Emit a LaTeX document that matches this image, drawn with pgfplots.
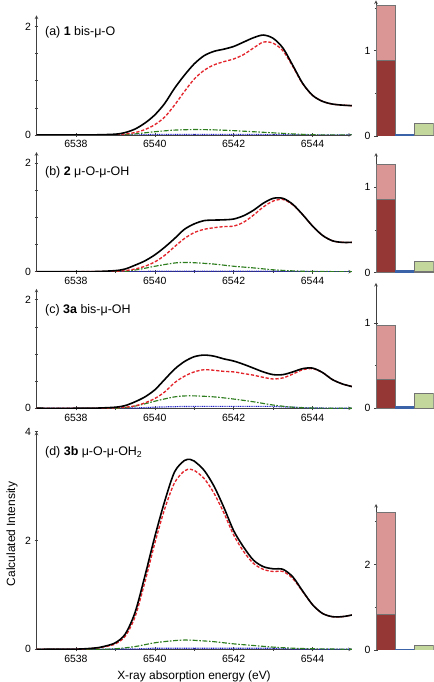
\documentclass[border=0pt]{standalone}
\usepackage{pgfplots}
\pgfplotsset{compat=1.18}
\usepackage{fontspec}
\setmainfont{Liberation Sans}
\definecolor{cred}{HTML}{E3242B}
\definecolor{cgreen}{HTML}{2E7D1E}
\definecolor{cblue}{HTML}{2222C8}
\definecolor{lred}{HTML}{D99694}
\definecolor{dred}{HTML}{953735}
\definecolor{lgreen}{HTML}{C3D69B}
\definecolor{dgreen}{HTML}{6E8E34}
\definecolor{dblue}{HTML}{3B64A8}
\tikzset{
  ttl/.style={anchor=west, font=\fontsize{12.5}{14}\selectfont},
  bb/.style={draw=black!55, line width=0.4bp},
  stot/.style={black, line width=1.6bp, smooth},
  sred/.style={cred, line width=1.35bp, dash pattern=on 3.2bp off 1.8bp, smooth},
  sgrn/.style={cgreen, line width=1.15bp, dash pattern=on 5bp off 1.6bp on 1.6bp off 1.6bp, smooth},
  sblu/.style={cblue, line width=1.2bp, dash pattern=on 1bp off 0.8bp},
}
\pgfplotsset{
  base/.style={scale only axis, enlargelimits=false,
    axis line style={-, line width=0.6bp, black!75},
    tick align=outside, major tick length=4bp, minor tick length=2.5bp,
    every tick/.style={black!75, line width=0.5bp},
    tick label style={font=\fontsize{10.5}{12}\selectfont},
    /pgf/number format/assume math mode=true,
    /pgf/number format/1000 sep={}},
  spec/.style={base, width=315.5bp, xmin=6537, xmax=6545,
    axis x line=bottom, axis y line=left,
    xtick={6538,6540,6542,6544}, minor xtick={6539,6541,6543},
    ymin=0},
  bars/.style={base, width=57.5bp, xmin=-0.5, xmax=2.5, ymin=0,
    axis x line=none, axis y line=left, ybar, bar width=1, bar shift=0pt},
}
\begin{document}
\begin{tikzpicture}
\useasboundingbox (0,0) rectangle (434bp,682bp);
% ---------- (a)
\begin{axis}[spec, at={(36.5bp,547bp)}, anchor=south west, height=119.5bp, ymax=2.2,
  ytick={0,2}, minor ytick={0.5,1,1.5}]
\addplot[sblu] coordinates {(6537,0) (6539.5,0) (6540,0.01) (6542.5,0.01) (6543,0.005) (6545,0)};
\addplot[sgrn] coordinates {(6537,0) (6539,0) (6539.25,0.005) (6539.5,0.02) (6539.75,0.04) (6540,0.06) (6540.5,0.09) (6541,0.10) (6541.5,0.095) (6542,0.08) (6542.5,0.06) (6543,0.04) (6543.5,0.02) (6544,0.005) (6544.5,0) (6545,0)};
\addplot[sred] coordinates {(6537,0) (6538.5,0.001) (6539,0.006) (6539.25,0.02) (6539.5,0.045) (6539.75,0.10) (6540,0.19) (6540.25,0.33) (6540.5,0.55) (6540.75,0.80) (6541,1.03) (6541.25,1.19) (6541.5,1.29) (6541.75,1.35) (6542,1.40) (6542.25,1.48) (6542.5,1.60) (6542.75,1.71) (6543,1.69) (6543.25,1.55) (6543.5,1.26) (6543.75,0.94) (6544,0.73) (6544.25,0.62) (6544.5,0.57) (6544.75,0.55) (6545,0.54)};
\addplot[stot] coordinates {(6537,0) (6538,0) (6538.5,0.003) (6539,0.015) (6539.25,0.045) (6539.5,0.11) (6539.75,0.22) (6540,0.37) (6540.25,0.58) (6540.5,0.86) (6540.75,1.10) (6541,1.31) (6541.25,1.46) (6541.5,1.54) (6541.75,1.58) (6542,1.63) (6542.25,1.71) (6542.5,1.79) (6542.75,1.84) (6543,1.78) (6543.25,1.60) (6543.5,1.28) (6543.75,0.95) (6544,0.73) (6544.25,0.62) (6544.5,0.57) (6544.75,0.55) (6545,0.54)};
\node[ttl] at (axis cs:6537.13,1.9) {(a) \textbf{1} bis-μ-O};
\end{axis}
% ---------- (b)
\begin{axis}[spec, at={(36.5bp,410.3bp)}, anchor=south west, height=119.5bp, ymax=2.2,
  ytick={0,2}, minor ytick={0.5,1,1.5}]
\addplot[sblu] coordinates {(6537,0) (6539.5,0) (6540,0.01) (6543,0.01) (6543.5,0.003) (6545,0)};
\addplot[sgrn] coordinates {(6537,0) (6539,0) (6539.5,0.03) (6540,0.10) (6540.5,0.16) (6540.75,0.17) (6541,0.165) (6541.5,0.14) (6542,0.10) (6542.5,0.07) (6543,0.035) (6543.5,0.015) (6544,0.005) (6545,0)};
\addplot[sred] coordinates {(6537,0) (6538.5,0.001) (6539,0.008) (6539.25,0.02) (6539.5,0.05) (6539.75,0.10) (6540,0.18) (6540.25,0.30) (6540.5,0.46) (6540.75,0.61) (6541,0.72) (6541.25,0.78) (6541.5,0.81) (6541.75,0.83) (6542,0.84) (6542.25,0.91) (6542.5,1.04) (6542.75,1.19) (6543,1.30) (6543.25,1.33) (6543.5,1.23) (6543.75,1.05) (6544,0.84) (6544.25,0.67) (6544.5,0.57) (6544.75,0.54) (6545,0.54)};
\addplot[stot] coordinates {(6537,0) (6538,0) (6538.5,0.003) (6539,0.02) (6539.25,0.05) (6539.5,0.12) (6539.75,0.20) (6540,0.31) (6540.25,0.45) (6540.5,0.61) (6540.75,0.78) (6541,0.88) (6541.25,0.94) (6541.5,0.95) (6541.75,0.955) (6542,0.97) (6542.25,1.03) (6542.5,1.13) (6542.75,1.26) (6543,1.35) (6543.25,1.35) (6543.5,1.24) (6543.75,1.05) (6544,0.84) (6544.25,0.67) (6544.5,0.57) (6544.75,0.54) (6545,0.54)};
\node[ttl] at (axis cs:6537.13,1.83) {(b) \textbf{2} μ-O-μ-OH};
\end{axis}
% ---------- (c)
\begin{axis}[spec, at={(36.5bp,273.7bp)}, anchor=south west, height=119.5bp, ymax=2.2,
  ytick={0,2}, minor ytick={0.5,1,1.5}]
\addplot[sblu] coordinates {(6537,0) (6539.5,0.005) (6540,0.02) (6540.5,0.03) (6541,0.035) (6543,0.035) (6543.5,0.02) (6544,0.005) (6545,0)};
\addplot[sgrn] coordinates {(6537,0) (6539,0) (6539.5,0.04) (6540,0.13) (6540.5,0.21) (6540.9,0.23) (6541.5,0.21) (6542,0.17) (6542.5,0.12) (6543,0.06) (6543.5,0.02) (6544,0.005) (6545,0)};
\addplot[sred] coordinates {(6537,0) (6538.5,0.001) (6539,0.008) (6539.25,0.02) (6539.5,0.045) (6539.75,0.10) (6540,0.18) (6540.25,0.30) (6540.5,0.47) (6540.75,0.59) (6541,0.67) (6541.25,0.71) (6541.5,0.70) (6541.75,0.68) (6542,0.67) (6542.25,0.64) (6542.5,0.61) (6542.75,0.57) (6543,0.54) (6543.25,0.56) (6543.5,0.63) (6543.75,0.71) (6544,0.73) (6544.25,0.66) (6544.5,0.53) (6544.75,0.45) (6545,0.40)};
\addplot[stot] coordinates {(6537,0) (6538,0) (6538.5,0.003) (6539,0.02) (6539.25,0.05) (6539.5,0.12) (6539.75,0.21) (6540,0.34) (6540.25,0.53) (6540.5,0.72) (6540.75,0.86) (6541,0.95) (6541.25,0.98) (6541.5,0.96) (6541.75,0.91) (6542,0.87) (6542.25,0.81) (6542.5,0.74) (6542.75,0.67) (6543,0.62) (6543.25,0.62) (6543.5,0.67) (6543.75,0.73) (6544,0.74) (6544.25,0.66) (6544.5,0.53) (6544.75,0.45) (6545,0.40)};
\node[ttl] at (axis cs:6537.13,1.80) {(c) \textbf{3a} bis-μ-OH};
\end{axis}
% ---------- (d)
\begin{axis}[spec, at={(36.5bp,32.7bp)}, anchor=south west, height=217.6bp, ymax=4,
  ytick={0,2,4}]
\addplot[sblu] coordinates {(6537,0) (6539.5,0.005) (6540,0.02) (6543,0.02) (6543.5,0.005) (6545,0)};
\addplot[sgrn] coordinates {(6537,0) (6538.5,0) (6539,0.01) (6539.5,0.05) (6540,0.12) (6540.5,0.16) (6540.75,0.17) (6541,0.165) (6541.5,0.14) (6542,0.10) (6542.5,0.07) (6543,0.04) (6543.5,0.02) (6544,0.01) (6545,0)};
\addplot[sred] coordinates {(6537,0) (6538,0.002) (6538.5,0.02) (6538.75,0.05) (6539,0.10) (6539.25,0.24) (6539.5,0.60) (6539.75,1.24) (6540,1.95) (6540.25,2.58) (6540.5,3.06) (6540.75,3.28) (6540.9,3.31) (6541,3.29) (6541.25,3.14) (6541.5,2.87) (6541.75,2.51) (6542,2.10) (6542.25,1.80) (6542.5,1.58) (6542.75,1.47) (6543,1.43) (6543.25,1.43) (6543.5,1.30) (6543.75,1.06) (6544,0.82) (6544.25,0.66) (6544.5,0.60) (6544.75,0.60) (6545,0.63)};
\addplot[stot] coordinates {(6537,0) (6538,0.003) (6538.5,0.025) (6538.75,0.06) (6539,0.12) (6539.25,0.28) (6539.5,0.68) (6539.75,1.35) (6540,2.07) (6540.25,2.72) (6540.5,3.26) (6540.75,3.47) (6540.9,3.49) (6541,3.46) (6541.25,3.29) (6541.5,3.00) (6541.75,2.61) (6542,2.18) (6542.25,1.88) (6542.5,1.64) (6542.75,1.52) (6543,1.48) (6543.25,1.47) (6543.5,1.33) (6543.75,1.07) (6544,0.82) (6544.25,0.66) (6544.5,0.60) (6544.75,0.60) (6545,0.63)};
\node[ttl] at (axis cs:6537.13,3.63) {(d) \textbf{3b} μ-O-μ-OH\textsubscript{2}};
\end{axis}
% ---------- bars
\begin{axis}[bars, at={(376bp,546bp)}, anchor=south west, height=135.6bp, ymax=1.59,
  ytick={0,1}, minor ytick={0.5,1.5}]
\addplot[bb, fill=lred] coordinates {(0,1.535)};
\addplot[bb, fill=dred] coordinates {(0,0.89)};
\addplot[draw=dblue, fill=dblue, line width=0.4bp] coordinates {(1,0.02)};
\addplot[bb, fill=lgreen] coordinates {(2,0.155)};
\addplot[bb, fill=dgreen] coordinates {(2,0.012)};
\end{axis}
\begin{axis}[bars, at={(376bp,409.3bp)}, anchor=south west, height=119.7bp, ymax=1.4,
  ytick={0,1}, minor ytick={0.5}]
\addplot[bb, fill=lred] coordinates {(0,1.27)};
\addplot[bb, fill=dred] coordinates {(0,0.86)};
\addplot[draw=dblue, fill=dblue, line width=0.4bp] coordinates {(1,0.025)};
\addplot[bb, fill=lgreen] coordinates {(2,0.137)};
\addplot[bb, fill=dgreen] coordinates {(2,0.02)};
\end{axis}
\begin{axis}[bars, at={(376bp,273.7bp)}, anchor=south west, height=125.4bp, ymax=1.47,
  ytick={0,1}, minor ytick={0.5}]
\addplot[bb, fill=lred] coordinates {(0,0.97)};
\addplot[bb, fill=dred] coordinates {(0,0.34)};
\addplot[draw=dblue, fill=dblue, line width=0.4bp] coordinates {(1,0.03)};
\addplot[bb, fill=lgreen] coordinates {(2,0.18)};
\addplot[bb, fill=dgreen] coordinates {(2,0.004)};
\end{axis}
\begin{axis}[bars, at={(376bp,32bp)}, anchor=south west, height=146bp, ymax=3.41,
  ytick={0,2}, minor ytick={1,3}]
\addplot[bb, fill=lred] coordinates {(0,3.22)};
\addplot[bb, fill=dred] coordinates {(0,0.84)};
\addplot[draw=dblue, fill=dblue, line width=0.4bp] coordinates {(1,0.02)};
\addplot[bb, fill=lgreen] coordinates {(2,0.12)};
\addplot[bb, fill=dgreen] coordinates {(2,0.004)};
\end{axis}
\node[rotate=90, font=\fontsize{12}{14}\selectfont] at (12bp,148bp) {Calculated Intensity};
\node[font=\fontsize{12}{14}\selectfont] at (194bp,6bp) {X-ray absorption energy (eV)};
\end{tikzpicture}
\end{document}
